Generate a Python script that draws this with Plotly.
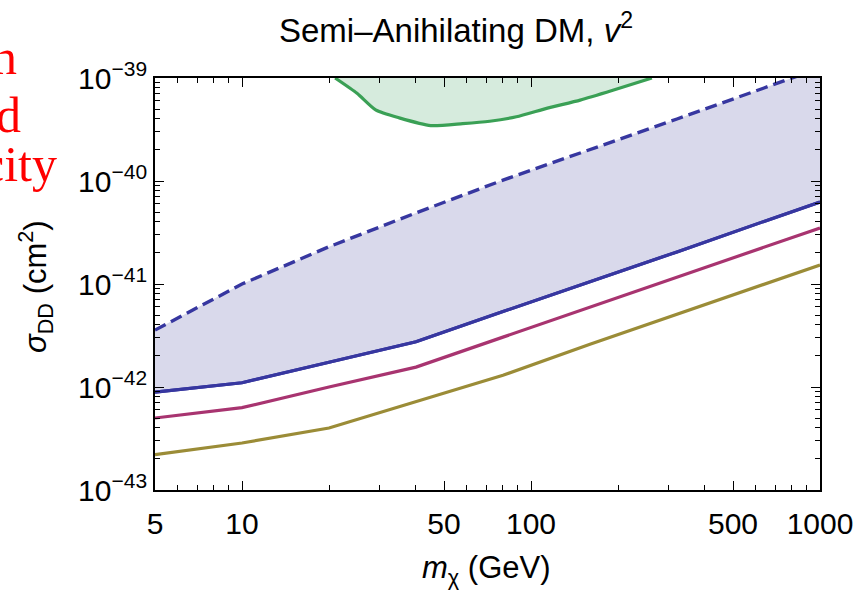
import plotly.graph_objects as go

# ---- data ----
mass = [5, 10, 20, 40, 80, 160, 320, 640, 1000]
sigma_blue = [8.9e-43, 1.1e-42, 1.74e-42, 2.75e-42, 5.4e-42, 1.05e-41, 2.05e-41, 4.05e-41, 6.25e-41]
sigma_dashed = [3.57e-42, 1.0e-41, 2.3e-41, 4.9e-41, 1.02e-40, 2.0e-40, 4.0e-40, 8.0e-40, 1.25e-39]
sigma_magenta = [5.0e-43, 6.3e-43, 1.0e-42, 1.56e-42, 3.05e-42, 5.97e-42, 1.17e-41, 2.29e-41, 3.5e-41]
sigma_yellow = [2.2e-43, 2.86e-43, 4.0e-43, 7.2e-43, 1.3e-42, 2.6e-42, 5.1e-42, 1.0e-41, 1.53e-41]

green_mass = [21, 25, 29, 35, 45, 58, 72, 89, 114, 148, 192, 262]
green_sigma = [1.0e-39, 7.1e-40, 4.9e-40, 4.1e-40, 3.45e-40, 3.6e-40, 3.8e-40, 4.2e-40, 5.1e-40, 6.1e-40, 7.6e-40, 1.0e-39]
green_top = 1e-37

x_tickvals = [5, 10, 50, 100, 500, 1000]
x_ticktext = ["5", "10", "50", "100", "500", "1000"]
x_minor = [6, 7, 8, 9, 20, 30, 40, 60, 70, 80, 90, 200, 300, 400, 600, 700, 800, 900]
y_exps = [-43, -42, -41, -40, -39]
y_tickvals = [10.0 ** e for e in y_exps]
y_ticktext = ["10<sup>\u2212%d</sup>" % (-e) for e in y_exps]
y_minor = [k * 10.0 ** e for e in y_exps[:-1] for k in range(2, 10)]

side_text = ["n", "d", "city"]

# ---- styles ----
BLUE = "rgb(55,55,160)"
MAGENTA = "rgb(168,52,112)"
YELLOW = "rgb(155,140,55)"
GREEN = "rgb(58,160,85)"
LAV = "rgb(217,217,235)"
GFILL = "rgb(214,235,221)"
FONT = "Liberation Sans, Arial, sans-serif"

W, H = 857, 592
L, R, T, B = 155, 37, 78, 102
PW, PH = W - L - R, H - T - B

fig = go.Figure()

# green region (fill from curve up beyond the top)
fig.add_trace(go.Scatter(x=green_mass, y=[green_top] * len(green_mass), mode="lines",
                         line=dict(width=0, color=GFILL), hoverinfo="skip", showlegend=False))
fig.add_trace(go.Scatter(x=green_mass, y=green_sigma, mode="lines", fill="tonexty",
                         fillcolor=GFILL, line=dict(color=GREEN, width=3.2, shape="spline", smoothing=0.6),
                         showlegend=False))

# blue band
fig.add_trace(go.Scatter(x=mass, y=sigma_blue, mode="lines",
                         line=dict(color=BLUE, width=3.2), showlegend=False))
fig.add_trace(go.Scatter(x=mass, y=sigma_dashed, mode="lines", fill="tonexty",
                         fillcolor=LAV, line=dict(color=BLUE, width=3.4, dash="12px,6px"),
                         showlegend=False))
# redraw blue solid on top of the fill
fig.add_trace(go.Scatter(x=mass, y=sigma_blue, mode="lines",
                         line=dict(color=BLUE, width=3.2), showlegend=False))
fig.add_trace(go.Scatter(x=mass, y=sigma_magenta, mode="lines",
                         line=dict(color=MAGENTA, width=3.2), showlegend=False))
fig.add_trace(go.Scatter(x=mass, y=sigma_yellow, mode="lines",
                         line=dict(color=YELLOW, width=3.2), showlegend=False))

axis_common = dict(type="log", showline=True, linecolor="black", linewidth=1.8, mirror="ticks",
                   ticks="inside", ticklen=9, tickwidth=1.3, tickcolor="black", showgrid=False,
                   zeroline=False, automargin=False, tickfont=dict(family=FONT, size=30, color="black"))

fig.update_xaxes(**axis_common, range=[0.69897, 3.0], tickmode="array",
                 tickvals=x_tickvals, ticktext=x_ticktext, ticklabelstandoff=6,
                 minor=dict(ticks="inside", ticklen=5, tickwidth=1.1, tickcolor="black",
                            tickmode="array", tickvals=x_minor, showgrid=False))
fig.update_yaxes(**axis_common, range=[-43, -39], tickmode="array",
                 tickvals=y_tickvals, ticktext=y_ticktext,
                 minor=dict(ticks="inside", ticklen=5, tickwidth=1.1, tickcolor="black",
                            tickmode="array", tickvals=y_minor, showgrid=False))

def px_x(p):
    return (p - L) / PW

def px_y(p):
    return (H - B - p) / PH

annotations = [
    # axis titles
    dict(text="<i>m</i><sub>\u03c7</sub> (GeV)", x=px_x(486), y=px_y(570), xref="paper", yref="paper",
         showarrow=False, xanchor="center", yanchor="middle", font=dict(family=FONT, size=31, color="black")),
    dict(text="<i>\u03c3</i><sub>DD</sub> (cm<sup>2</sup>)", x=px_x(35), y=px_y(287), xref="paper", yref="paper",
         showarrow=False, xanchor="center", yanchor="middle", textangle=-90,
         font=dict(family=FONT, size=31, color="black")),
]
side_pos = [(19, 57), (23, 115), (59, 164)]
for txt, (rx, cy) in zip(side_text, side_pos):
    annotations.append(dict(text=txt, x=px_x(rx), y=px_y(cy), xref="paper", yref="paper",
                            showarrow=False, xanchor="right", yanchor="middle",
                            font=dict(family="Liberation Serif, Times New Roman, serif", size=50, color="red")))

fig.update_layout(
    width=W, height=H,
    margin=dict(l=L, r=R, t=T, b=B, autoexpand=False),
    paper_bgcolor="white", plot_bgcolor="white",
    title=dict(text="Semi\u2013Anihilating DM, <i>v</i><sup>2</sup>", x=px_x(456), xref="paper",
               xanchor="center", y=1 - 30 / H, yref="container", yanchor="middle",
               font=dict(family=FONT, size=33, color="black")),
    annotations=annotations,
    showlegend=False,
)

fig.write_html("out.html")
